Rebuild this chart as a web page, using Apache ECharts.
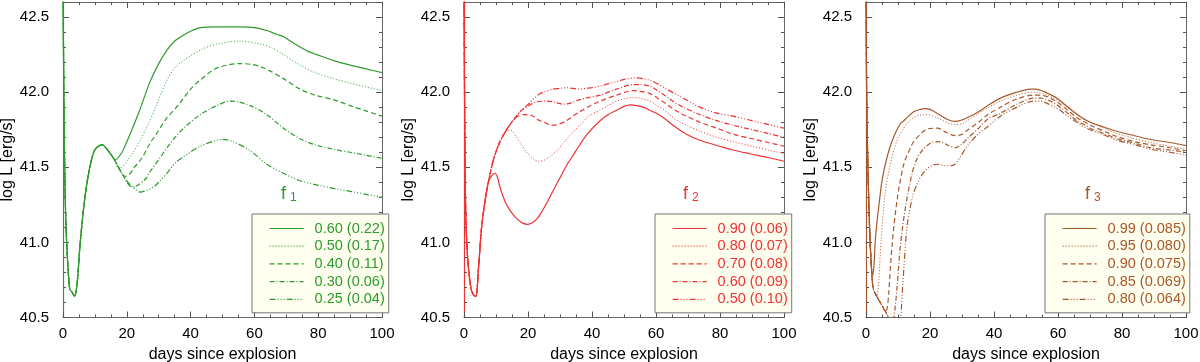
<!DOCTYPE html>
<html>
<head>
<meta charset="utf-8">
<script src="https://cdn.jsdelivr.net/npm/echarts@6/dist/echarts.min.js"></script>
<style>
html, body { margin: 0; padding: 0; background: #fff; }
#chart { width: 1200px; height: 362px; }
</style>
</head>
<body>
<div id="chart"></div>
<script>
// ---- data: [day, log L] ----
// panel f1 (green)
var f1Early = [[0,42.8],[0.3,41.9],[0.7,41.3],[1.25,40.95],[2.1,40.69],[2.8,40.67],[3.6,40.64],[4.4,40.72],[5.4,41.0],[7,41.32],[8.6,41.52],[10.1,41.62],[12.3,41.65],[13.8,41.62],[15.2,41.58]];
var f1a = [[16.4,41.55],[18.5,41.6],[20,41.67],[21.6,41.75],[24.2,41.89],[27.3,42.07],[30,42.19],[32.6,42.28],[35,42.34],[37.8,42.38],[40.5,42.41],[43,42.43],[48,42.435],[55.5,42.435],[60,42.43],[63.9,42.41],[67,42.385],[69.1,42.37],[72,42.33],[74.3,42.3],[77,42.27],[79.5,42.25],[84.8,42.21],[90,42.18],[95,42.155],[100,42.13]];
var f1b = [[16.4,41.54],[17.4,41.49],[18.5,41.5],[20,41.54],[22,41.6],[23.7,41.66],[26.8,41.79],[29,41.9],[32.6,42.08],[35,42.16],[37.8,42.21],[43,42.28],[48.2,42.32],[55.5,42.34],[61.8,42.32],[65,42.3],[69.1,42.25],[74.3,42.18],[79,42.13],[84.8,42.09],[90,42.06],[95,42.035],[100,42.01]];
var f1c = [[16.4,41.54],[17.4,41.5],[18.5,41.455],[19.5,41.44],[21.1,41.46],[22,41.49],[24.7,41.56],[27.3,41.66],[28.9,41.71],[32.6,41.83],[35.2,41.89],[37.8,41.96],[40,42.02],[43,42.08],[48.2,42.16],[55.5,42.19],[59,42.185],[61.8,42.17],[65,42.14],[69.1,42.09],[74.3,42.02],[79,41.98],[84.8,41.95],[90,41.91],[95,41.875],[100,41.84]];
var f1d = [[16.4,41.54],[17.4,41.5],[18.5,41.46],[20,41.4],[21.5,41.37],[23,41.375],[25.8,41.42],[27.3,41.47],[30,41.55],[32.6,41.63],[35.2,41.7],[37.8,41.76],[43,41.85],[48.2,41.91],[52.4,41.94],[55,41.935],[58.7,41.91],[63.9,41.85],[69.1,41.76],[74.3,41.69],[79,41.65],[84.8,41.62],[90,41.6],[95,41.58],[100,41.56]];
var f1e = [[16.4,41.54],[17.4,41.5],[18.5,41.46],[20,41.41],[21.5,41.375],[23,41.35],[24.2,41.335],[26.8,41.35],[28.5,41.37],[30,41.4],[32.6,41.46],[35.2,41.53],[37.8,41.57],[43,41.64],[48.2,41.68],[50,41.685],[53.4,41.67],[58.7,41.61],[63.9,41.52],[69.1,41.46],[74.3,41.41],[79,41.385],[84.8,41.36],[90,41.34],[95,41.32],[100,41.3]];
var f1Labels = ['0.60 (0.22)', '0.50 (0.17)', '0.40 (0.11)', '0.30 (0.06)', '0.25 (0.04)'];

// panel f2 (red)
var f2Early = [[0,42.8],[0.25,41.7],[0.6,41.15],[1.2,40.88],[2.2,40.69],[3,40.65],[3.7,40.64],[4.5,40.82],[5.5,41.1],[6.6,41.28],[7.6,41.4]];
var f2a = [[8.5,41.44],[9.7,41.46],[10.5,41.43],[11.2,41.37],[12.3,41.3],[13.3,41.25],[14.8,41.2],[16.4,41.16],[18.2,41.13],[19.9,41.12],[21.3,41.13],[22.7,41.155],[24.2,41.2],[25.8,41.26],[28,41.35],[30,41.43],[32,41.51],[34.1,41.58],[36.2,41.65],[38.5,41.72],[42.5,41.81],[45,41.85],[47.7,41.88],[50,41.905],[52,41.915],[54,41.91],[56,41.9],[58,41.88],[60.1,41.86],[63,41.82],[65.3,41.78],[69.5,41.72],[73.7,41.68],[79.9,41.64],[84,41.615],[89.3,41.59],[95,41.565],[100,41.54]];
var f2b = [[9.2,41.55],[11.2,41.66],[13,41.73],[14.4,41.75],[15.5,41.73],[16.4,41.7],[18,41.65],[19.6,41.6],[21.5,41.56],[23.2,41.54],[24.8,41.545],[26.8,41.57],[29,41.61],[31,41.66],[33,41.71],[36.2,41.78],[39,41.84],[42.5,41.88],[45,41.91],[47.7,41.94],[50,41.955],[52.9,41.965],[55,41.96],[58.1,41.94],[60.5,41.91],[63.3,41.87],[66,41.82],[68.5,41.79],[73.7,41.74],[79,41.7],[84.1,41.67],[90,41.64],[95,41.615],[100,41.59]];
var f2c = [[9.2,41.55],[11.2,41.67],[13.3,41.75],[14.9,41.8],[16.4,41.835],[18.5,41.85],[20,41.85],[21.6,41.84],[22.7,41.82],[25,41.8],[27.4,41.78],[29.5,41.785],[32,41.81],[34,41.84],[36.2,41.87],[39,41.905],[42.5,41.94],[47.7,41.98],[52.9,42.01],[55,42.005],[58.1,41.99],[60.5,41.96],[63.3,41.92],[66,41.88],[68.5,41.85],[73.7,41.8],[79,41.76],[84.1,41.72],[90,41.69],[95,41.665],[100,41.64]];
var f2d = [[9.2,41.55],[11.2,41.67],[13.3,41.75],[14.9,41.8],[16.4,41.84],[17.5,41.87],[19.6,41.9],[20.6,41.915],[22.5,41.935],[25.8,41.94],[28,41.935],[31,41.92],[33,41.925],[34.1,41.935],[36.2,41.95],[39,41.965],[42.5,41.98],[47.7,42.02],[52.9,42.05],[55,42.05],[58.1,42.04],[60.5,42.01],[63.3,41.97],[66,41.93],[68.5,41.9],[73.7,41.85],[79,41.81],[84.1,41.78],[90,41.75],[95,41.725],[100,41.7]];
var f2e = [[9.2,41.55],[11.2,41.67],[13.3,41.75],[14.9,41.8],[16.4,41.84],[17.5,41.87],[19.6,41.91],[20.6,41.93],[22,41.96],[23.7,41.99],[24.8,42.0],[27.9,42.02],[30,42.025],[32,42.03],[34,42.025],[36.2,42.02],[38,42.025],[40,42.03],[42.5,42.04],[45,42.055],[47.7,42.07],[50,42.085],[53.4,42.095],[56,42.09],[58.1,42.08],[60.5,42.055],[63.3,42.02],[66,41.99],[68.5,41.96],[73.7,41.9],[79,41.86],[84.1,41.84],[90,41.81],[95,41.785],[100,41.76]];
var f2Labels = ['0.90 (0.06)', '0.80 (0.07)', '0.70 (0.08)', '0.60 (0.09)', '0.50 (0.10)'];

// panel f3 (brown)
var f3Early = [[0,42.8],[0.2,42.0],[0.6,41.5],[1.2,41.05],[1.8,40.8]];
var f3a = [[2.1,40.78],[2.5,40.85],[2.9,41.01],[3.5,41.15],[4,41.24],[5,41.41],[6.6,41.57],[8.6,41.7],[10.7,41.79],[11.8,41.81],[14.9,41.87],[17,41.885],[18.5,41.89],[20,41.885],[22.2,41.86],[25.3,41.82],[27.9,41.805],[30,41.815],[31.6,41.83],[35.2,41.87],[38,41.91],[42,41.96],[47.2,42.0],[51.4,42.02],[53,42.02],[55.5,42.005],[57.5,41.985],[59.7,41.96],[62,41.92],[64.9,41.87],[67.5,41.83],[70.1,41.8],[74,41.77],[78.4,41.74],[84,41.71],[88.9,41.685],[95,41.665],[100,41.645]];
var f3b = [[2.3,40.69],[3.4,40.64],[4,40.75],[4.7,41.01],[6,41.33],[7.6,41.52],[9.7,41.68],[11.8,41.76],[12.8,41.79],[14.5,41.825],[16.5,41.845],[18.5,41.85],[19.6,41.85],[21.5,41.835],[23.2,41.82],[25.5,41.795],[27.9,41.785],[30,41.79],[31.6,41.81],[35,41.855],[38,41.895],[42,41.94],[47.2,41.98],[51.9,42.0],[54,41.995],[56.6,41.98],[58.5,41.96],[60.7,41.935],[63,41.895],[65.9,41.85],[68.5,41.815],[71.1,41.79],[75,41.755],[78.4,41.725],[84,41.69],[88.9,41.665],[95,41.64],[100,41.62]];
var f3c = [[2.3,40.69],[3.4,40.64],[5,40.58],[6.1,40.54],[6.6,40.56],[7.1,40.66],[8.1,40.97],[9.7,41.28],[11.8,41.52],[13.9,41.63],[14.9,41.67],[17,41.72],[19.1,41.755],[22.2,41.76],[25.3,41.73],[27.9,41.71],[30,41.72],[31.6,41.745],[35.2,41.8],[38,41.85],[42,41.9],[47.2,41.955],[52.4,41.98],[54.5,41.98],[56.6,41.97],[58.5,41.95],[60.7,41.92],[63,41.88],[65.9,41.83],[68.5,41.8],[71.1,41.77],[75,41.735],[78.4,41.705],[84,41.67],[88.9,41.65],[95,41.63],[100,41.61]];
var f3d = [[2.3,40.69],[3.4,40.64],[5,40.58],[6.6,40.52],[8,40.46],[8.6,40.48],[9.7,40.7],[10.7,40.97],[12.3,41.23],[14.4,41.46],[16,41.56],[17.5,41.61],[20.6,41.665],[23.2,41.67],[25.8,41.645],[27.9,41.63],[30,41.655],[31.6,41.69],[35.2,41.76],[38,41.82],[42,41.86],[47.2,41.92],[52.4,41.96],[54.5,41.96],[56.6,41.95],[58.5,41.93],[60.7,41.9],[63,41.86],[65.9,41.81],[68.5,41.78],[71.1,41.75],[75,41.72],[78.4,41.69],[84,41.66],[88.9,41.63],[95,41.615],[100,41.6]];
var f3e = [[2.3,40.69],[3.4,40.64],[5,40.58],[6.6,40.52],[8,40.46],[9.5,40.4],[10.5,40.42],[11.5,40.72],[12.8,41.1],[14.5,41.3],[16,41.39],[17.5,41.45],[19.1,41.49],[21,41.515],[22.5,41.52],[24.5,41.51],[26.5,41.51],[27.8,41.52],[29.5,41.57],[31.6,41.64],[35,41.72],[38,41.77],[42,41.84],[47.2,41.9],[52.4,41.94],[54.5,41.94],[56.6,41.925],[58.5,41.905],[60.7,41.88],[63,41.84],[65.9,41.8],[68.5,41.765],[71.1,41.74],[75,41.71],[78.4,41.68],[84,41.65],[88.9,41.62],[95,41.6],[100,41.58]];
var f3Labels = ['0.99 (0.085)', '0.95 (0.080)', '0.90 (0.075)', '0.85 (0.069)', '0.80 (0.064)'];

var xTicks = [0, 20, 40, 60, 80, 100];
var yTicks = [40.5, 41.0, 41.5, 42.0, 42.5];

// ---- styling ----
var font = 'Liberation Sans, Helvetica, Arial, sans-serif';
var narrow = 'Liberation Sans Narrow, Liberation Sans, Arial, sans-serif';
var colors = ['#2E9B2E', '#EE3333', '#A8592B'];
var dashes = ['solid', [1, 2], [5, 3], [5, 2, 1, 2], [6, 2, 1, 2, 1, 2, 1, 2]];
var widths = [1.2, 1, 1.2, 1.2, 1.2];
var panels = [
    {early: f1Early, tails: [f1a, f1b, f1c, f1d, f1e], labels: f1Labels, left: 63, width: 319, legendLeft: 252, sub: '1', fx: 281},
    {early: f2Early, tails: [f2a, f2b, f2c, f2d, f2e], labels: f2Labels, left: 464, width: 320, legendLeft: 655, sub: '2', fx: 683},
    {early: f3Early, tails: [f3a, f3b, f3c, f3d, f3e], labels: f3Labels, left: 866, width: 320, legendLeft: 1045, sub: '3', fx: 1085}
];

var option = {
    animation: false,
    textStyle: {fontFamily: font},
    grid: [], xAxis: [], yAxis: [], series: [], legend: [], graphic: []
};

panels.forEach(function(p, i){
    var col = colors[i];
    option.grid.push({left: p.left, width: p.width, top: 2, height: 315.5, show: false,
        containLabel: false, outerBoundsMode: 'none'});

    var xBase = {
        gridIndex: i, type: 'value', min: xTicks[0], max: xTicks[xTicks.length - 1], interval: 20,
        axisLine: {onZero: false, lineStyle: {color: '#666', width: 1}},
        axisTick: {inside: true, length: 6, lineStyle: {color: '#555'}},
        minorTick: {show: true, splitNumber: 4, length: 3, lineStyle: {color: '#555'}},
        splitLine: {show: false}
    };
    option.xAxis.push(Object.assign({}, xBase, {
        position: 'bottom',
        axisLabel: {fontSize: 15, color: '#000', margin: 9},
        name: 'days since explosion', nameLocation: 'middle', nameGap: 25,
        nameTextStyle: {fontSize: 16, color: '#000'}
    }));
    option.xAxis.push(Object.assign({}, xBase, {position: 'top', axisLabel: {show: false}}));

    var yBase = {
        gridIndex: i, type: 'value', min: yTicks[0], max: 42.6,
        splitLine: {show: false}, axisLabel: {show: false}
    };
    // left, labelled, major ticks
    option.yAxis.push(Object.assign({}, yBase, {
        position: 'left', interval: 0.5,
        axisLine: {show: true, onZero: false, lineStyle: {color: col, width: 1.2}},
        axisTick: {inside: true, length: 6, lineStyle: {color: '#555'}},
        axisLabel: {show: true, showMaxLabel: false, fontSize: 15, fontFamily: narrow, color: '#000', margin: 14,
            formatter: function(v){ return v.toFixed(1); }},
        name: 'log L [erg/s]', nameLocation: 'middle', nameGap: 42,
        nameTextStyle: {fontSize: 16, color: '#000'}
    }));
    // left minor ticks
    option.yAxis.push(Object.assign({}, yBase, {
        position: 'left', interval: 0.1,
        axisLine: {show: false, onZero: false},
        axisTick: {inside: true, length: 3, lineStyle: {color: '#555'}}
    }));
    // right frame
    option.yAxis.push(Object.assign({}, yBase, {
        position: 'right', interval: 0.5,
        axisLine: {show: true, onZero: false, lineStyle: {color: '#666', width: 1}},
        axisTick: {inside: true, length: 6, lineStyle: {color: '#555'}}
    }));
    option.yAxis.push(Object.assign({}, yBase, {
        position: 'right', interval: 0.1,
        axisLine: {show: false, onZero: false},
        axisTick: {inside: true, length: 3, lineStyle: {color: '#555'}}
    }));

    p.tails.forEach(function(tail, k){
        option.series.push({
            name: p.labels[k], type: 'line',
            xAxisIndex: 2 * i, yAxisIndex: 4 * i,
            data: p.early.concat(tail),
            symbol: 'none', showSymbol: false, smooth: 0.3, clip: true,
            lineStyle: {color: col, width: widths[k], type: dashes[k]},
            itemStyle: {color: col}
        });
    });

    option.legend.push({
        data: p.labels, orient: 'vertical', left: p.legendLeft, top: 214,
        backgroundColor: '#FFFFF0', borderColor: '#777', borderWidth: 1,
        padding: [7, 4, 6, 17], itemWidth: 34, itemHeight: 10, itemGap: 2.7,
        selectedMode: false,
        itemStyle: {opacity: 0},
        lineStyle: {width: 1.2},
        textStyle: {color: col, fontSize: 14.5, lineHeight: 14, padding: [0, 0, 0, 6]}
    });

    option.graphic.push({
        type: 'text', left: p.fx, top: 185,
        style: {text: 'f', fontSize: 18, fill: col, font: '18px ' + font}
    });
    option.graphic.push({
        type: 'text', left: p.fx + 9, top: 192,
        style: {text: p.sub, fontSize: 12, fill: col, font: '12px ' + font}
    });
});

var chart = echarts.init(document.getElementById('chart'));
chart.setOption(option);
</script>
</body>
</html>
